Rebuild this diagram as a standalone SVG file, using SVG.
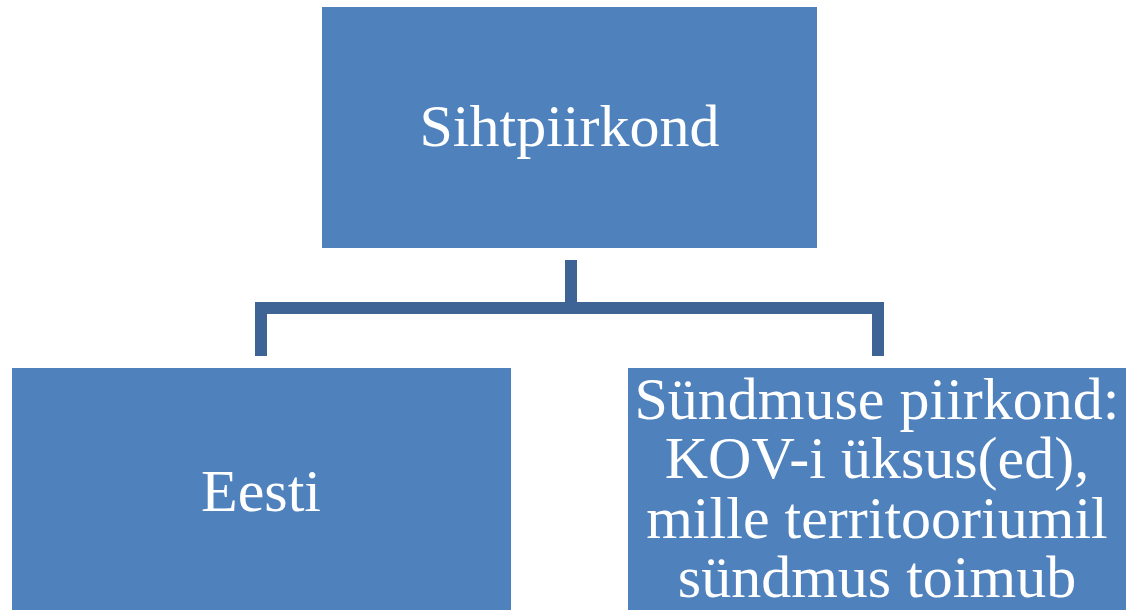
<svg xmlns="http://www.w3.org/2000/svg" width="1130" height="610" viewBox="0 0 1130 610">
<style>
.box{fill:#4F81BD;}
.lbl{font-family:"Liberation Serif","Times New Roman",serif;font-size:60px;fill:#FFFFFF;text-anchor:middle;}
.conn{fill:none;stroke:#3D6495;stroke-width:12;stroke-linecap:butt;stroke-linejoin:miter;}
</style>
<rect width="1130" height="610" fill="#FFFFFF"/>
<g id="connectors">
<path class="conn" d="M571,260 V308"/>
<path class="conn" d="M261,356 V308 H878 V356"/>
</g>
<g id="node-sihtpiirkond">
<rect class="box" x="322" y="7" width="495" height="241"/>
<text class="lbl" x="569.5" y="146">Sihtpiirkond</text>
</g>
<g id="node-eesti">
<rect class="box" x="12" y="368" width="499" height="242"/>
<text class="lbl" x="261" y="511">Eesti</text>
</g>
<g id="node-syndmuse">
<rect class="box" x="628" y="368" width="498" height="242"/>
<text class="lbl" x="877" y="419">Sündmuse piirkond:</text>
<text class="lbl" x="877" y="478">KOV-i üksus(ed),</text>
<text class="lbl" x="877" y="538">mille territooriumil</text>
<text class="lbl" x="877" y="597">sündmus toimub</text>
</g>
</svg>
